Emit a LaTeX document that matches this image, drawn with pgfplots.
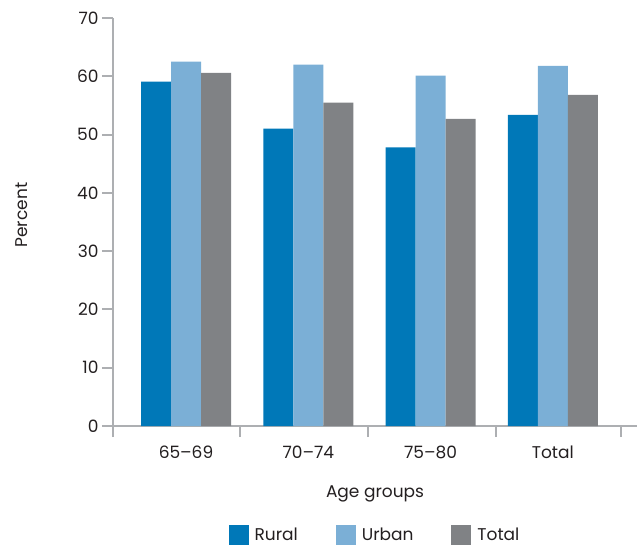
\documentclass[border=0pt]{standalone}
\usepackage{pgfplots}
\pgfplotsset{compat=1.18}
\usepackage{fontspec}
\setmainfont{Poppins}
\definecolor{rural}{RGB}{0,120,184}
\definecolor{urban}{RGB}{123,175,214}
\definecolor{totalc}{RGB}{128,130,133}
\definecolor{axisgray}{RGB}{173,175,178}
\definecolor{textcol}{RGB}{35,31,32}
\begin{document}
\begin{tikzpicture}
\begin{axis}[
  scale only axis, width=524bp, height=408bp,
  xmin=-0.597, xmax=3.688, ymin=0, ymax=70,
  ybar=0pt, bar width=30bp,
  axis x line=bottom, axis y line=left,
  axis line style={-, draw=axisgray, line width=2bp},
  xtick={-0.597,0.4415,1.488,2.535,3.557}, xticklabels={},
  extra x ticks={0,1,2,3},
  extra x tick labels={65–69,70–74,75–80,Total},
  extra x tick style={tick style={draw=none}, tick label style={yshift=-5bp}},
  ytick={0,10,...,70},
  tick style={draw=axisgray, line width=2bp},
  tick align=outside, major tick length=11bp,
  tick label style={font=\fontsize{17bp}{20bp}\selectfont, text=textcol},
  /pgf/number format/assume math mode=true,
  xlabel={Age groups}, ylabel={Percent},
  every axis x label/.style={at={(0.5,0)}, yshift=-68bp, anchor=center, font=\fontsize{17bp}{20bp}\selectfont, text=textcol},
  every axis y label/.style={at={(0,0.517)}, xshift=-91bp, rotate=90, anchor=center, font=\fontsize{17bp}{20bp}\selectfont, text=textcol},
  legend style={draw=none, at={(0.5,0)}, anchor=center, yshift=-109bp, font=\fontsize{17bp}{20bp}\selectfont, text=textcol, legend columns=3,
    /tikz/every odd column/.append style={column sep=4bp},
    /tikz/every even column/.append style={column sep=36bp}},
  legend image code/.code={\fill[#1] (0bp,-10bp) rectangle (20bp,10bp);},
]
\addplot[fill=rural, draw=none] coordinates {(0,59.1) (1,51.0) (2,47.8) (3,53.4)};
\addplot[fill=urban, draw=none] coordinates {(0,62.5) (1,62.0) (2,60.1) (3,61.8)};
\addplot[fill=totalc, draw=none] coordinates {(0,60.6) (1,55.5) (2,52.7) (3,56.8)};
\legend{Rural,Urban,Total}
\end{axis}
\pgfresetboundingbox
\path ([xshift=-113bp,yshift=-120bp]current axis.south west) rectangle ++(638bp,546bp);
\end{tikzpicture}
\end{document}
